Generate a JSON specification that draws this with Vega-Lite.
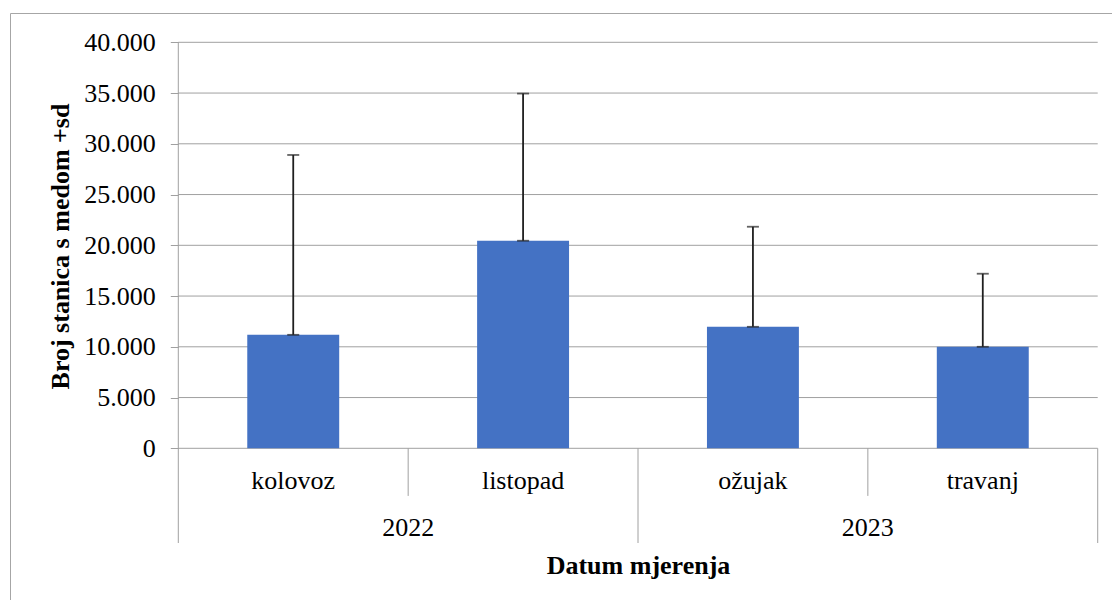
{
  "$schema": "https://vega.github.io/schema/vega-lite/v6.json",
  "width": 1103,
  "height": 588,
  "autosize": {"type": "none"},
  "padding": {"left": 10, "top": 13, "right": 0, "bottom": 0},
  "background": "white",
  "config": {"view": {"stroke": "#a6a6a6", "strokeWidth": 1}, "font": "Liberation Serif"},
  "datasets": {
    "mjerenja": [
      {"mjesec": "kolovoz", "godina": "2022", "srednja": 11180, "gornja": 28900},
      {"mjesec": "listopad", "godina": "2022", "srednja": 20450, "gornja": 34950},
      {"mjesec": "ožujak", "godina": "2023", "srednja": 11970, "gornja": 21830},
      {"mjesec": "travanj", "godina": "2023", "srednja": 10000, "gornja": 17200}
    ],
    "mreza": [{"v": 0}, {"v": 5000}, {"v": 10000}, {"v": 15000}, {"v": 20000}, {"v": 25000}, {"v": 30000}, {"v": 35000}, {"v": 40000}],
    "jedan": [{}]
  },
  "resolve": {"axis": {"x": "shared", "y": "shared"}},
  "layer": [
    {
      "data": {"name": "mreza"},
      "mark": {"type": "rule", "color": "#a0a0a0", "strokeWidth": 1},
      "encoding": {
        "x": {
          "datum": "kolovoz", "type": "nominal", "bandPosition": 0,
          "scale": {"type": "band", "domain": ["kolovoz", "listopad", "ožujak", "travanj"], "paddingInner": 0, "paddingOuter": 0.3994, "align": 0.9167},
          "axis": {
            "orient": "bottom", "labels": false, "ticks": false, "domain": false, "grid": false,
            "title": "Datum mjerenja",
            "titleFont": "Liberation Serif", "titleFontSize": 26, "titleFontWeight": "bold", "titleColor": "#000000",
            "titleX": 628, "titleY": -28, "titleAlign": "center", "titleBaseline": "alphabetic"
          }
        },
        "x2": {"datum": "travanj", "bandPosition": 1},
        "y": {
          "field": "v", "type": "quantitative",
          "scale": {"domain": [-15044, 42887], "nice": false, "zero": false},
          "axis": {
            "orient": "left", "offset": -168.3,
            "values": [0, 5000, 10000, 15000, 20000, 25000, 30000, 35000, 40000],
            "grid": false, "domain": false, "ticks": true,
            "tickColor": "#a0a0a0", "tickSize": 8, "tickWidth": 1,
            "labels": true,
            "labelFont": "Liberation Serif", "labelFontSize": 26, "labelColor": "#000000", "labelPadding": 15,
            "labelOverlap": false, "labelBound": false, "labelFlush": false,
            "labelExpr": "replace(format(datum.value, ','), ',', '.')",
            "title": "Broj stanica s medom +sd",
            "titleFont": "Liberation Serif", "titleFontSize": 26, "titleFontWeight": "bold", "titleColor": "#000000",
            "titleAngle": 270, "titleX": -118, "titleY": 233, "titleAlign": "center", "titleBaseline": "middle"
          }
        }
      }
    },
    {
      "data": {"name": "jedan"},
      "mark": {"type": "rule", "color": "#a0a0a0", "strokeWidth": 1},
      "encoding": {
        "x": {"datum": "kolovoz", "type": "nominal", "bandPosition": 0, "scale": {"type": "band"}},
        "y": {"datum": 40000, "type": "quantitative"},
        "y2": {"datum": -9330}
      }
    },
    {
      "data": {"name": "jedan"},
      "mark": {"type": "rule", "color": "#a0a0a0", "strokeWidth": 1},
      "encoding": {
        "x": {"datum": "ožujak", "type": "nominal", "bandPosition": 0, "scale": {"type": "band"}},
        "y": {"datum": 0, "type": "quantitative"},
        "y2": {"datum": -9330}
      }
    },
    {
      "data": {"name": "jedan"},
      "mark": {"type": "rule", "color": "#a0a0a0", "strokeWidth": 1},
      "encoding": {
        "x": {"datum": "travanj", "type": "nominal", "bandPosition": 1, "scale": {"type": "band"}},
        "y": {"datum": 0, "type": "quantitative"},
        "y2": {"datum": -9330}
      }
    },
    {
      "data": {"name": "mjerenja"},
      "transform": [{"filter": "datum.mjesec === 'listopad' || datum.mjesec === 'travanj'"}],
      "mark": {"type": "rule", "color": "#a0a0a0", "strokeWidth": 1},
      "encoding": {
        "x": {"field": "mjesec", "type": "nominal", "bandPosition": 0, "scale": {"type": "band"}},
        "y": {"datum": 0, "type": "quantitative"},
        "y2": {"datum": -4690}
      }
    },
    {
      "data": {"name": "mjerenja"},
      "mark": {"type": "bar", "color": "#4472C4", "width": {"band": 0.4}},
      "encoding": {
        "x": {"field": "mjesec", "type": "nominal", "scale": {"type": "band"}},
        "y": {"field": "srednja", "type": "quantitative"},
        "y2": {"datum": 0}
      }
    },
    {
      "data": {"name": "mjerenja"},
      "mark": {"type": "rule", "color": "#1f1f1f", "strokeWidth": 1.8},
      "encoding": {
        "x": {"field": "mjesec", "type": "nominal", "scale": {"type": "band"}},
        "y": {"field": "srednja", "type": "quantitative"},
        "y2": {"field": "gornja"}
      }
    },
    {
      "data": {"name": "mjerenja"},
      "mark": {"type": "tick", "orient": "horizontal", "color": "#1f1f1f", "size": 12, "thickness": 1.8},
      "encoding": {
        "x": {"field": "mjesec", "type": "nominal", "scale": {"type": "band"}},
        "y": {"field": "gornja", "type": "quantitative"}
      }
    },
    {
      "data": {"name": "mjerenja"},
      "mark": {"type": "tick", "orient": "horizontal", "color": "#1f1f1f", "size": 12, "thickness": 1.8},
      "encoding": {
        "x": {"field": "mjesec", "type": "nominal", "scale": {"type": "band"}},
        "y": {"field": "srednja", "type": "quantitative"}
      }
    },
    {
      "data": {"name": "mjerenja"},
      "mark": {"type": "text", "font": "Liberation Serif", "fontSize": 26, "color": "#000000", "align": "center", "baseline": "alphabetic"},
      "encoding": {
        "x": {"field": "mjesec", "type": "nominal", "scale": {"type": "band"}},
        "y": {"datum": -4039, "type": "quantitative"},
        "text": {"field": "mjesec"}
      }
    },
    {
      "data": {"name": "mjerenja"},
      "transform": [{"filter": "datum.mjesec === 'listopad' || datum.mjesec === 'travanj'"}],
      "mark": {"type": "text", "font": "Liberation Serif", "fontSize": 26, "color": "#000000", "align": "center", "baseline": "alphabetic"},
      "encoding": {
        "x": {"field": "mjesec", "type": "nominal", "bandPosition": 0, "scale": {"type": "band"}},
        "y": {"datum": -8670, "type": "quantitative"},
        "text": {"field": "godina"}
      }
    }
  ]
}
